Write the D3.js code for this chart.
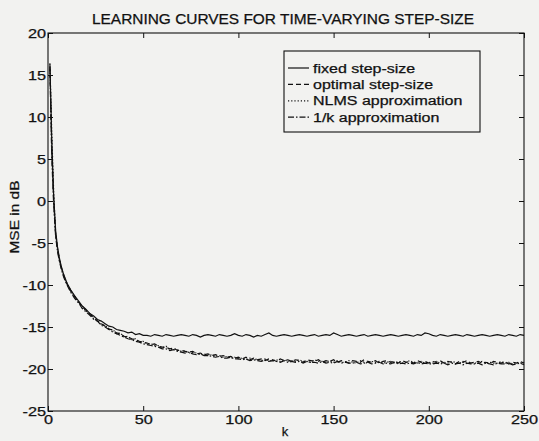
<!DOCTYPE html>
<html>
<head>
<meta charset="utf-8">
<script src="https://cdn.jsdelivr.net/npm/d3@7"></script>
<style>
  body { margin: 0; background: #f2f2f0; }
  svg { display: block; font-family: "Liberation Sans", Arial, sans-serif; }
  text { fill: #111; stroke: #111; stroke-width: 0.25; }
</style>
</head>
<body>
<svg width="539" height="441"></svg>
<script>
// iteration index k (dense at the start, every 2nd afterwards)
var kSteps = [
  1, 2, 3, 4, 5, 6, 7, 8, 9, 10,
  12, 14, 16, 18, 20, 22, 24, 26, 28, 30,
  32, 34, 36, 38, 40, 42, 44, 46, 48, 50,
  52, 54, 56, 58, 60, 62, 64, 66, 68, 70,
  72, 74, 76, 78, 80, 82, 84, 86, 88, 90,
  92, 94, 96, 98, 100, 102, 104, 106, 108, 110,
  112, 114, 116, 118, 120, 122, 124, 126, 128, 130,
  132, 134, 136, 138, 140, 142, 144, 146, 148, 150,
  152, 154, 156, 158, 160, 162, 164, 166, 168, 170,
  172, 174, 176, 178, 180, 182, 184, 186, 188, 190,
  192, 194, 196, 198, 200, 202, 204, 206, 208, 210,
  212, 214, 216, 218, 220, 222, 224, 226, 228, 230,
  232, 234, 236, 238, 240, 242, 244, 246, 248, 250
];

// MSE in dB
var fixedStep = [
  16.3, 7.0, 0.5, -3.5, -5.5, -6.8, -7.8, -8.6, -9.2, -9.8,
  -10.6, -11.3, -11.9, -12.5, -12.9, -13.4, -13.7, -14.1, -14.3, -14.6,
  -14.9, -15.0, -15.3, -15.4, -15.5, -15.7, -15.6, -15.9, -15.8, -16.0,
  -16.0, -16.1, -15.9, -16.0, -16.1, -15.9, -16.0, -16.1, -16.0, -15.9,
  -16.0, -16.1, -15.9, -16.0, -16.2, -16.0, -15.9, -16.0, -16.1, -15.9,
  -16.0, -16.1, -16.0, -15.8, -16.0, -16.1, -15.9, -16.0, -16.2, -16.0,
  -16.1, -15.9, -15.7, -16.0, -16.1, -16.0, -15.9, -16.0, -16.1, -16.0,
  -15.9, -16.0, -16.1, -16.0, -15.9, -16.1, -16.0, -15.9, -16.0, -15.7,
  -15.9, -16.1, -16.0, -15.9, -16.0, -16.1, -16.0, -15.9, -16.1, -16.0,
  -15.9, -16.0, -16.1, -16.0, -15.9, -16.0, -16.1, -16.0, -15.9, -16.0,
  -16.1, -15.9, -16.0, -15.7, -15.8, -16.0, -16.1, -15.9, -16.0, -16.1,
  -16.0, -15.9, -16.0, -16.1, -15.9, -16.0, -16.1, -16.0, -15.9, -16.0,
  -16.1, -16.0, -15.9, -16.0, -16.1, -15.9, -16.0, -16.1, -15.9, -16.0
];

var optimalStep = [
  16.0, 6.0, 0.0, -4.0, -5.8, -7.0, -7.9, -8.7, -9.3, -9.9,
  -10.7, -11.4, -12.0, -12.6, -13.0, -13.5, -13.9, -14.3, -14.6, -14.9,
  -15.2, -15.4, -15.7, -15.8, -16.1, -16.2, -16.4, -16.5, -16.7, -16.8,
  -16.9, -17.1, -17.0, -17.3, -17.4, -17.4, -17.6, -17.5, -17.8, -17.8,
  -17.9, -18.0, -17.9, -18.2, -18.1, -18.3, -18.2, -18.4, -18.3, -18.5,
  -18.4, -18.6, -18.5, -18.7, -18.6, -18.8, -18.6, -18.9, -18.7, -18.9,
  -18.8, -19.0, -18.8, -18.9, -19.1, -18.8, -19.0, -18.9, -19.1, -18.9,
  -19.0, -19.2, -18.9, -19.0, -19.1, -18.9, -19.2, -19.0, -19.1, -18.9,
  -19.2, -19.0, -19.1, -19.3, -19.0, -19.1, -19.2, -18.9, -19.1, -19.2,
  -19.0, -19.3, -19.1, -19.0, -19.2, -19.1, -19.3, -19.0, -19.2, -19.1,
  -19.3, -19.0, -19.2, -19.1, -19.3, -19.1, -19.2, -19.0, -19.3, -19.1,
  -19.2, -19.4, -19.1, -19.2, -19.0, -19.3, -19.2, -19.1, -19.3, -19.2,
  -19.4, -19.1, -19.2, -19.3, -19.1, -19.4, -19.2, -19.3, -19.1, -19.3
];

var nlmsApprox = [
  16.4, 8.0, 1.0, -3.8, -5.6, -6.9, -8.0, -8.6, -9.4, -9.8,
  -10.8, -11.3, -12.1, -12.5, -13.1, -13.4, -14.0, -14.2, -14.7, -14.8,
  -15.3, -15.3, -15.8, -15.7, -16.2, -16.1, -16.5, -16.4, -16.8, -16.7,
  -17.0, -17.0, -17.2, -17.2, -17.5, -17.3, -17.7, -17.6, -17.7, -17.9,
  -17.8, -18.1, -18.0, -18.1, -18.3, -18.2, -18.4, -18.3, -18.5, -18.4,
  -18.6, -18.5, -18.7, -18.6, -18.8, -18.7, -18.9, -18.7, -18.9, -18.8,
  -19.0, -18.8, -19.0, -19.0, -18.9, -19.1, -18.9, -19.1, -19.0, -19.1,
  -18.9, -19.1, -19.1, -19.2, -18.9, -19.1, -19.1, -19.2, -19.0, -19.2,
  -19.0, -19.2, -19.2, -19.0, -19.2, -19.3, -19.0, -19.2, -19.3, -19.1,
  -19.2, -19.1, -19.3, -19.2, -19.1, -19.3, -19.1, -19.3, -19.2, -19.0,
  -19.2, -19.3, -19.1, -19.3, -19.2, -19.3, -19.1, -19.3, -19.2, -19.3,
  -19.1, -19.2, -19.3, -19.1, -19.3, -19.2, -19.3, -19.3, -19.1, -19.3,
  -19.2, -19.3, -19.3, -19.1, -19.3, -19.2, -19.4, -19.2, -19.3, -19.2
];

var invKApprox = [
  15.8, 5.0, -0.5, -4.2, -6.0, -7.2, -8.1, -8.9, -9.5, -10.0,
  -10.9, -11.6, -12.1, -12.8, -13.2, -13.6, -14.1, -14.3, -14.8, -15.0,
  -15.3, -15.6, -15.8, -16.0, -16.2, -16.4, -16.5, -16.7, -16.8, -17.0,
  -17.1, -17.2, -17.3, -17.4, -17.6, -17.6, -17.8, -17.7, -17.9, -18.0,
  -18.1, -18.0, -18.2, -18.3, -18.2, -18.4, -18.4, -18.5, -18.6, -18.5,
  -18.7, -18.7, -18.6, -18.8, -18.8, -18.9, -18.8, -19.0, -18.9, -19.0,
  -19.1, -18.9, -19.1, -19.0, -19.1, -19.2, -19.0, -19.2, -19.1, -19.2,
  -19.1, -19.3, -19.1, -19.2, -19.2, -19.3, -19.1, -19.3, -19.2, -19.3,
  -19.1, -19.3, -19.2, -19.3, -19.3, -19.2, -19.4, -19.3, -19.2, -19.4,
  -19.3, -19.2, -19.4, -19.3, -19.4, -19.2, -19.4, -19.3, -19.4, -19.3,
  -19.4, -19.2, -19.4, -19.3, -19.4, -19.4, -19.3, -19.4, -19.3, -19.5,
  -19.3, -19.4, -19.3, -19.5, -19.3, -19.4, -19.4, -19.3, -19.5, -19.3,
  -19.4, -19.5, -19.3, -19.4, -19.4, -19.3, -19.5, -19.4, -19.3, -19.5
];

var seriesNames = ["fixed step-size", "optimal step-size", "NLMS approximation", "1/k approximation"];
var seriesDash = [null, "5,3", "1.2,2", "6,2,1.5,2"];
var xTicks = [0, 50, 100, 150, 200, 250];
var yTicks = [-25, -20, -15, -10, -5, 0, 5, 10, 15, 20];

// plot box (note: "top" is taken by window.top)
var plotL = 48, plotR = 524, plotT = 33, plotB = 411;

var x = d3.scaleLinear().domain([0, 250]).range([plotL, plotR]);
var y = d3.scaleLinear().domain([-25, 20]).range([plotB, plotT]);

var svg = d3.select("svg");

// the scanned font runs wider than Arial, so stretch text a bit
function stretch(sel, f) {
  sel.each(function() {
    var w = this.getComputedTextLength();
    d3.select(this).attr("textLength", w * f).attr("lengthAdjust", "spacingAndGlyphs");
  });
}

var plainNum = d => String(d);   // plain hyphen minus, like the original

// axes, ticks pointing inward like matlab
var gx = svg.append("g")
    .attr("transform", "translate(0," + plotB + ")")
    .call(d3.axisBottom(x).tickValues(xTicks).tickFormat(plainNum).tickSizeInner(-5).tickSizeOuter(0).tickPadding(4));
svg.append("g")
    .attr("transform", "translate(0," + plotT + ")")
    .call(d3.axisTop(x).tickValues(xTicks).tickSizeInner(-5).tickSizeOuter(0).tickFormat(""));
var gy = svg.append("g")
    .attr("transform", "translate(" + plotL + ",0)")
    .call(d3.axisLeft(y).tickValues(yTicks).tickFormat(plainNum).tickSizeInner(-5).tickSizeOuter(0).tickPadding(2));
svg.append("g")
    .attr("transform", "translate(" + plotR + ",0)")
    .call(d3.axisRight(y).tickValues(yTicks).tickSizeInner(-5).tickSizeOuter(0).tickFormat(""));

svg.selectAll(".domain").remove();
svg.selectAll(".tick line").attr("stroke", "#111");
svg.selectAll(".tick text")
    .attr("font-size", 12.5)
    .attr("font-family", "Liberation Sans, Arial, sans-serif")
    .attr("fill", "#111");
stretch(gx.selectAll(".tick text"), 1.3);
stretch(gy.selectAll(".tick text"), 1.3);

svg.append("rect")
    .attr("x", plotL).attr("y", plotT)
    .attr("width", plotR - plotL).attr("height", plotB - plotT)
    .attr("fill", "none").attr("stroke", "#111").attr("stroke-width", 1.1);

// curves
var line = d3.line()
    .x((d, i) => x(kSteps[i]))
    .y(d => y(d));

[fixedStep, optimalStep, nlmsApprox, invKApprox].forEach((vals, i) => {
  svg.append("path")
      .datum(vals)
      .attr("d", line)
      .attr("fill", "none")
      .attr("stroke", "#111")
      .attr("stroke-width", 1.2)
      .attr("stroke-dasharray", seriesDash[i]);
});

// legend
var lg = svg.append("g");
lg.append("rect")
    .attr("x", 284).attr("y", 51).attr("width", 196).attr("height", 81)
    .attr("fill", "#f2f2f0").attr("stroke", "#111").attr("stroke-width", 1.1);
seriesNames.forEach((name, i) => {
  var ry = 68 + i * 16.4;
  lg.append("line")
      .attr("x1", 288).attr("x2", 309).attr("y1", ry).attr("y2", ry)
      .attr("stroke", "#111").attr("stroke-width", 1.2)
      .attr("stroke-dasharray", seriesDash[i]);
  lg.append("text")
      .attr("x", 313).attr("y", ry + 4.5)
      .attr("font-size", 12.5)
      .text(name);
});
stretch(lg.selectAll("text"), 1.28);

// titles
svg.append("text")
    .attr("x", 283).attr("y", 24)
    .attr("text-anchor", "middle")
    .attr("font-size", 14)
    .attr("textLength", 382).attr("lengthAdjust", "spacingAndGlyphs")
    .text("LEARNING CURVES FOR TIME-VARYING STEP-SIZE");

svg.append("text")
    .attr("transform", "translate(19,217) rotate(-90)")
    .attr("text-anchor", "middle")
    .attr("font-size", 12)
    .attr("textLength", 73).attr("lengthAdjust", "spacingAndGlyphs")
    .text("MSE in dB");

svg.append("text")
    .attr("x", 285).attr("y", 436)
    .attr("text-anchor", "middle")
    .attr("font-size", 13)
    .text("k");
</script>
</body>
</html>
